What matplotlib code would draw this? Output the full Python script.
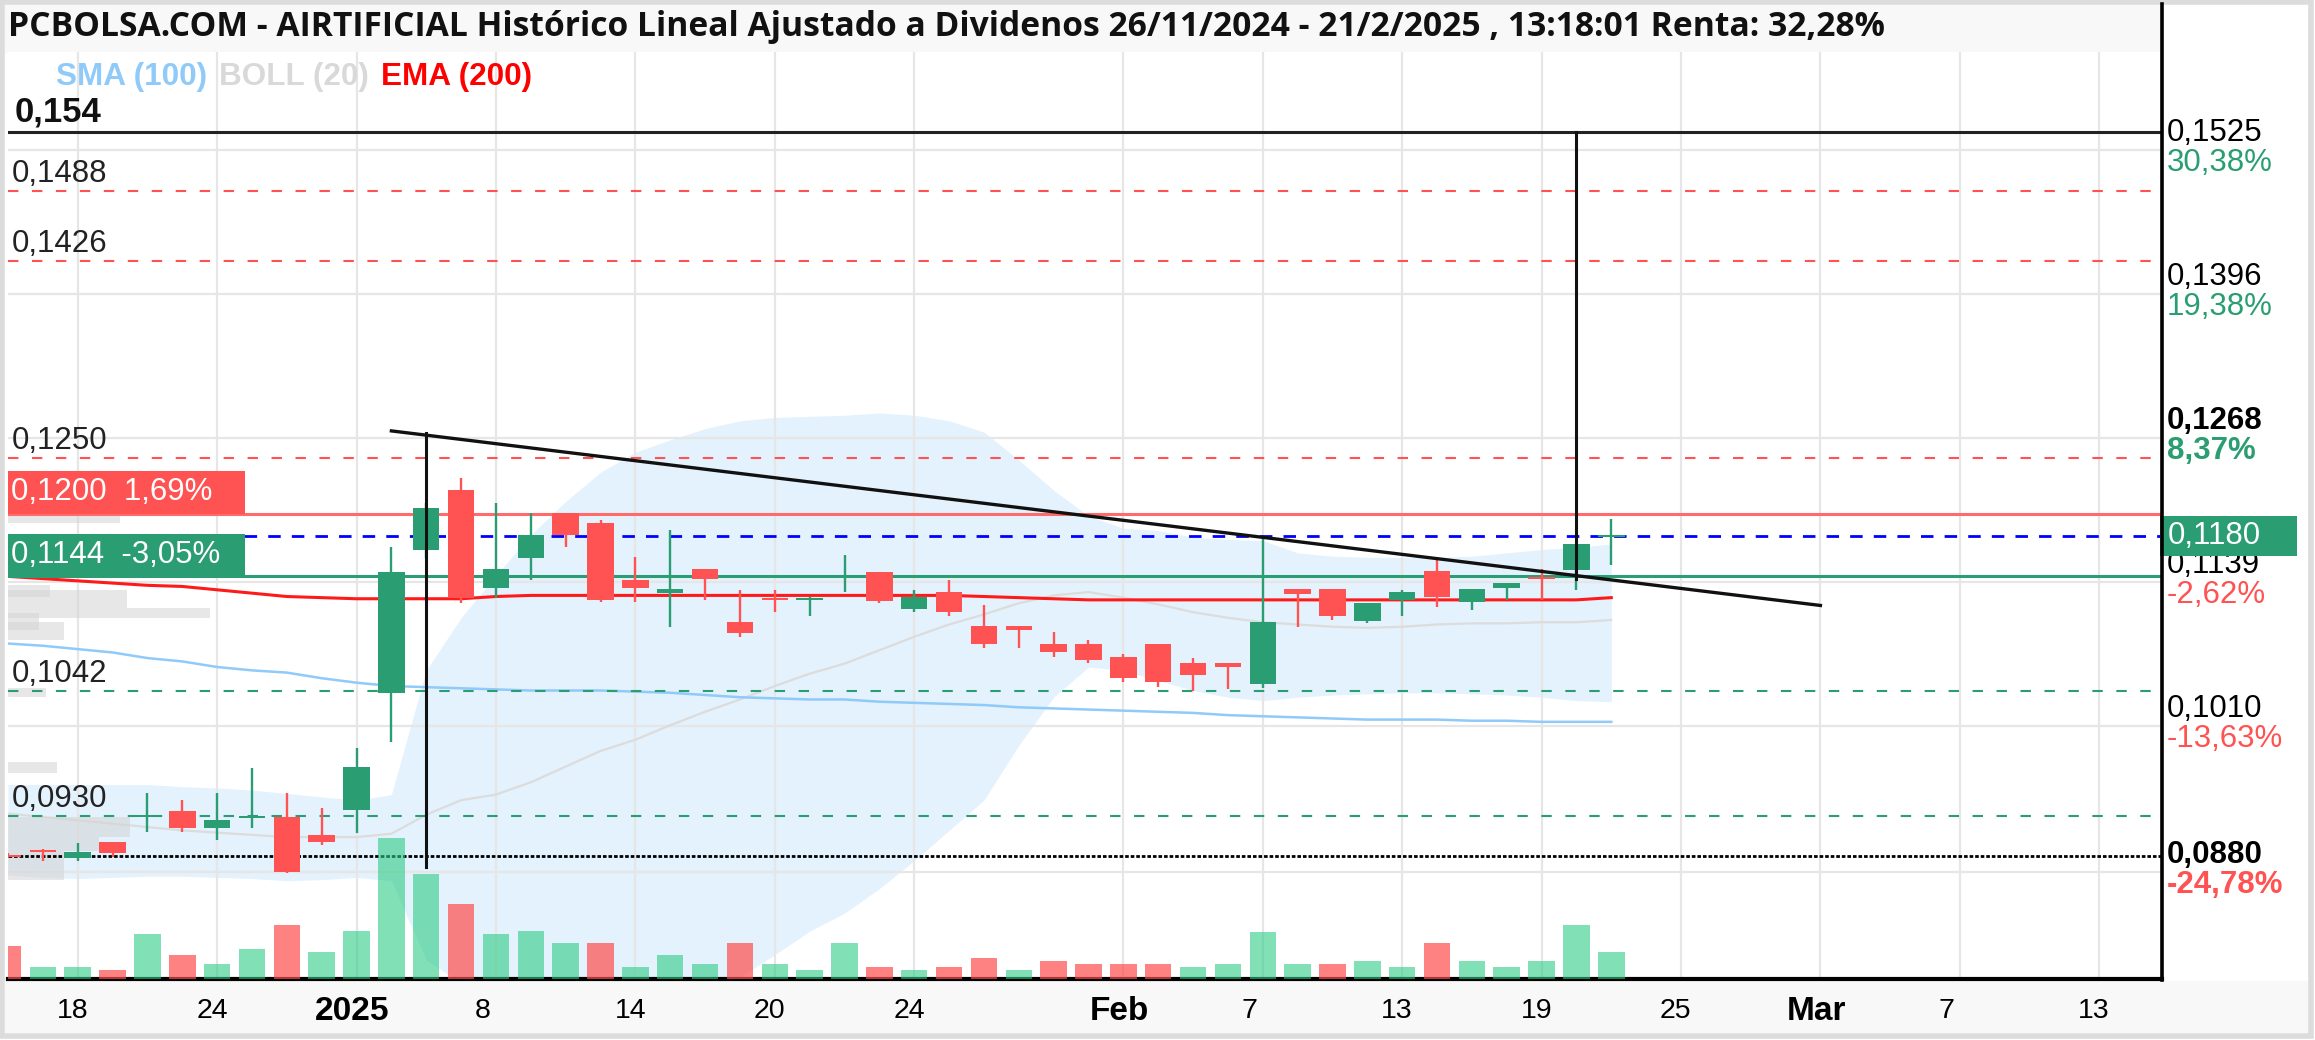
import numpy as np
import pandas as pd
import matplotlib
matplotlib.use('Agg')
import matplotlib.pyplot as plt
from matplotlib.patches import Rectangle
from matplotlib.lines import Line2D
from matplotlib.transforms import blended_transform_factory

plt.rcParams['font.family'] = ['Liberation Sans', 'DejaVu Sans']

TITULO = ('PCBOLSA.COM - AIRTIFICIAL Histórico Lineal Ajustado a Dividenos '
          '26/11/2024 - 21/2/2025 , 13:18:01 Renta: 32,28%')

# sesiones de mercado (sin festivos)
festivos = ['2024-12-25', '2024-12-26', '2025-01-01']
sesiones = pd.bdate_range('2024-12-16', '2025-03-21')
sesiones = sesiones[~sesiones.isin(pd.to_datetime(festivos))]

# velas 16/12/2024 - 21/02/2025
apertura = [0.0895, 0.0899, 0.0892, 0.0907, 0.0929, 0.0934, 0.0919, 0.0928, 0.0929, 0.0913,
            0.0935, 0.1040, 0.1168, 0.1221, 0.1134, 0.1160, 0.1201, 0.1192, 0.1141, 0.1129,
            0.1151, 0.1103, 0.1125, 0.1123, 0.1143, 0.1148, 0.1115, 0.1130, 0.1100, 0.1100,
            0.1084, 0.1084, 0.1072, 0.1084, 0.1067, 0.1067, 0.1048, 0.1133, 0.1133, 0.1104,
            0.1123, 0.1149, 0.1121, 0.1134, 0.1143, 0.1150, 0.1179]
maximo = [0.0897, 0.0900, 0.0906, 0.0907, 0.0950, 0.0944, 0.0950, 0.0973, 0.0950, 0.0937,
          0.0991, 0.1170, 0.1210, 0.1232, 0.1210, 0.1201, 0.1201, 0.1194, 0.1161, 0.1185,
          0.1151, 0.1132, 0.1132, 0.1126, 0.1163, 0.1148, 0.1132, 0.1141, 0.1118, 0.1100,
          0.1094, 0.1087, 0.1075, 0.1084, 0.1071, 0.1067, 0.1179, 0.1133, 0.1133, 0.1120,
          0.1132, 0.1161, 0.1133, 0.1138, 0.1151, 0.1173, 0.1195]
minimo = [0.0893, 0.0890, 0.0890, 0.0893, 0.0916, 0.0916, 0.0908, 0.0919, 0.0879, 0.0904,
          0.0915, 0.0996, 0.1160, 0.1120, 0.1125, 0.1141, 0.1170, 0.1121, 0.1121, 0.1099,
          0.1123, 0.1090, 0.1112, 0.1109, 0.1130, 0.1120, 0.1112, 0.1109, 0.1080, 0.1080,
          0.1072, 0.1067, 0.1050, 0.1045, 0.1042, 0.1043, 0.1044, 0.1099, 0.1105, 0.1102,
          0.1109, 0.1117, 0.1114, 0.1123, 0.1123, 0.1132, 0.1154]
cierre = [0.0893, 0.0898, 0.0898, 0.0897, 0.0930, 0.0919, 0.0926, 0.0929, 0.0880, 0.0907,
          0.0974, 0.1148, 0.1205, 0.1125, 0.1151, 0.1181, 0.1181, 0.1123, 0.1134, 0.1133,
          0.1142, 0.1093, 0.1123, 0.1125, 0.1144, 0.1122, 0.1126, 0.1112, 0.1084, 0.1096,
          0.1076, 0.1069, 0.1053, 0.1050, 0.1056, 0.1063, 0.1103, 0.1128, 0.1109, 0.1120,
          0.1130, 0.1126, 0.1133, 0.1138, 0.1142, 0.1173, 0.1180]

# volumen (miles) y color de la barra (1 sube, 0 baja)
volumen = [330, 120, 120, 90, 450, 240, 150, 300, 540, 270, 480, 1410, 1050, 750, 450, 480,
           360, 360, 120, 240, 150, 360, 150, 90, 360, 120, 90, 120, 210, 90, 180, 150, 150,
           150, 120, 150, 470, 150, 150, 180, 120, 360, 180, 120, 180, 540, 270]
vol_sube = [0, 1, 1, 0, 1, 0, 1, 1, 0, 1, 1, 1, 1, 0, 1, 1, 1, 0, 1, 1, 1, 0, 1, 1, 1, 0,
            1, 0, 0, 1, 0, 0, 0, 0, 1, 1, 1, 1, 0, 1, 1, 0, 1, 1, 1, 1, 1]

# indicadores
boll_sup = [0.0958, 0.0958, 0.0958, 0.0958, 0.0958, 0.0956, 0.0955, 0.0953, 0.0950, 0.0947,
            0.0944, 0.0949, 0.1060, 0.1107, 0.1145, 0.1181, 0.1211, 0.1237, 0.1255, 0.1266,
            0.1276, 0.1283, 0.1286, 0.1287, 0.1288, 0.1290, 0.1288, 0.1283, 0.1273, 0.1248,
            0.1221, 0.1198, 0.1187, 0.1185, 0.1179, 0.1177, 0.1176, 0.1165, 0.1162, 0.1161,
            0.1161, 0.1161, 0.1162, 0.1165, 0.1168, 0.1170, 0.1173]
boll_med = [0.0932, 0.0929, 0.0926, 0.0923, 0.0920, 0.0917, 0.0915, 0.0913, 0.0911, 0.0911,
            0.0911, 0.0914, 0.0931, 0.0944, 0.0949, 0.0960, 0.0974, 0.0988, 0.0998, 0.1011,
            0.1023, 0.1034, 0.1046, 0.1057, 0.1066, 0.1078, 0.1090, 0.1101, 0.1110, 0.1120,
            0.1127, 0.1130, 0.1125, 0.1119, 0.1112, 0.1107, 0.1103, 0.1101, 0.1099, 0.1098,
            0.1099, 0.1101, 0.1102, 0.1102, 0.1103, 0.1103, 0.1105]
boll_inf = [0.0877, 0.0875, 0.0874, 0.0875, 0.0876, 0.0876, 0.0875, 0.0874, 0.0872, 0.0873,
            0.0875, 0.0872, 0.0801, 0.0781, 0.0752, 0.0739, 0.0737, 0.0738, 0.0740, 0.0756,
            0.0770, 0.0786, 0.0806, 0.0827, 0.0843, 0.0865, 0.0890, 0.0917, 0.0944, 0.0993,
            0.1036, 0.1063, 0.1060, 0.1051, 0.1042, 0.1036, 0.1033, 0.1036, 0.1038, 0.1039,
            0.1040, 0.1040, 0.1039, 0.1038, 0.1036, 0.1033, 0.1032]
sma100 = [0.1084, 0.1082, 0.1079, 0.1076, 0.1071, 0.1068, 0.1063, 0.1060, 0.1058, 0.1053,
          0.1049, 0.1046, 0.1045, 0.1044, 0.1043, 0.1042, 0.1042, 0.1042, 0.1041, 0.1040,
          0.1038, 0.1036, 0.1035, 0.1034, 0.1034, 0.1032, 0.1031, 0.1030, 0.1029, 0.1027,
          0.1026, 0.1025, 0.1024, 0.1023, 0.1022, 0.1020, 0.1019, 0.1018, 0.1017, 0.1016,
          0.1016, 0.1016, 0.1015, 0.1015, 0.1014, 0.1014, 0.1014]
ema200 = [0.1144, 0.1142, 0.1140, 0.1138, 0.1136, 0.1135, 0.1132, 0.1129, 0.1126, 0.1125,
          0.1124, 0.1124, 0.1124, 0.1124, 0.1126, 0.1127, 0.1127, 0.1127, 0.1127, 0.1127,
          0.1127, 0.1127, 0.1127, 0.1127, 0.1127, 0.1127, 0.1127, 0.1127, 0.1126, 0.1125,
          0.1124, 0.1123, 0.1123, 0.1123, 0.1123, 0.1123, 0.1123, 0.1123, 0.1123, 0.1123,
          0.1123, 0.1123, 0.1123, 0.1123, 0.1123, 0.1123, 0.1125]

# perfil de volumen (zona izquierda): precio bajo, precio alto, longitud en sesiones
vp_bajo = [0.1192, 0.1126, 0.1116, 0.1107, 0.1096, 0.1087, 0.1036, 0.0968, 0.0911, 0.0899, 0.0873]
vp_alto = [0.1199, 0.1136, 0.1132, 0.1116, 0.1111, 0.1103, 0.1044, 0.0978, 0.0929, 0.0911, 0.0899]
vp_largo = [3.2, 1.2, 3.4, 5.8, 0.9, 1.6, 1.1, 1.4, 3.5, 2.6, 1.6]

# niveles
nivel_max, nivel_max_txt = 0.1541, '0,154'
niveles_rojos = [0.1488, 0.1426, 0.1250]
niveles_verdes = [0.1042, 0.0930]
niveles_txt = {0.1488: '0,1488', 0.1426: '0,1426', 0.1250: '0,1250',
               0.1042: '0,1042', 0.0930: '0,0930'}
nivel_min = 0.0894
res_roja, res_roja_txt = 0.1200, '0,1200  1,69%'
sop_verde, sop_verde_txt = 0.1144, '0,1144  -3,05%'
precio_actual, precio_actual_txt = 0.1180, '0,1180'

# directriz y medidas (fecha, precio)
directriz = [('2025-01-03', 0.1274), ('2025-03-03', 0.1118)]
medida1 = ('2025-01-06', 0.0884, 0.1272)
medida2 = ('2025-02-20', 0.1142, 0.1541)

# eje derecho
ticks_der = [0.1525, 0.1396, 0.1268, 0.1139, 0.1010, 0.0880]
ticks_der_txt = ['0,1525', '0,1396', '0,1268', '0,1139', '0,1010', '0,0880']
pct_der = ['30,38%', '19,38%', '8,37%', '-2,62%', '-13,63%', '-24,78%']
negrita_der = [False, False, True, False, False, True]

# eje x
fechas_eje = ['2024-12-18', '2024-12-24', '2025-01-02', '2025-01-08', '2025-01-14',
              '2025-01-20', '2025-01-24', '2025-02-03', '2025-02-07', '2025-02-13',
              '2025-02-19', '2025-02-25', '2025-03-03', '2025-03-07', '2025-03-13']
etiquetas_eje = ['18', '24', '2025', '8', '14', '20', '24', 'Feb', '7', '13', '19', '25',
                 'Mar', '7', '13']

leyenda = [('SMA (100)', '#90caf9'), ('BOLL (20)', '#d9d9d9'), ('EMA (200)', '#ff0000')]

VERDE = '#2a9d72'
ROJO = '#ff5252'


def pos(fecha):
    return int(sesiones.get_loc(pd.Timestamp(fecha)))


W, H = 2315, 1040
fig = plt.figure(figsize=(W / 100, H / 100), dpi=100)


def fx(px):
    return px / W


def fy(py):
    return 1 - py / H


# marco, barra de título y zona de fechas
fig.patches.append(Rectangle((fx(5), fy(52)), fx(2162) - fx(5), fy(4) - fy(52),
                             transform=fig.transFigure, color='#f8f8f8', zorder=-2))
fig.patches.append(Rectangle((fx(5), fy(1032)), fx(2308) - fx(5), fy(981) - fy(1032),
                             transform=fig.transFigure, color='#f8f8f8', zorder=-2))
fig.patches.append(Rectangle((fx(2), fy(1036)), fx(2311) - fx(2), fy(2) - fy(1036),
                             transform=fig.transFigure, fill=False, edgecolor='#dcdcdc',
                             lw=4, zorder=-1))

ax = fig.add_axes([fx(8), fy(979), fx(2162) - fx(8), fy(52) - fy(979)])
ax.set_xlim(0, 61.8)
ax.set_ylim(0.07842, 0.16126)

x = np.arange(len(cierre))

# gridlines
ax.set_yticks(ticks_der)
ax.set_xticks([pos(f) for f in fechas_eje])
ax.grid(True, color='#e6e6e6', lw=1.6)
ax.set_axisbelow(True)
ax.tick_params(length=0, labelbottom=False, labelleft=False)
for s in ['left', 'top', 'right']:
    ax.spines[s].set_visible(False)
ax.spines['bottom'].set_linewidth(3)
ax.spines['bottom'].set_color('black')

# bandas de bollinger y medias
ax.fill_between(x, boll_inf, boll_sup, color='#e3f2fd', lw=0, zorder=0.3)
ax.plot(x, boll_med, color='#dcdcdc', lw=1.6, zorder=1)
ax.plot(x, sma100, color='#90caf9', lw=1.8, zorder=1)
ax.plot(x, ema200, color='#ff1a1a', lw=2.2, zorder=1.2)

# perfil de volumen
for b, a, l in zip(vp_bajo, vp_alto, vp_largo):
    ax.add_patch(Rectangle((0, b), l, a - b, color='#d4d4d4', alpha=0.55, lw=0, zorder=1.3))

# niveles horizontales
ax.axhline(nivel_max, color='#222222', lw=2.2, zorder=1.5)
for n in niveles_rojos:
    ax.axhline(n, color=ROJO, lw=1.5, ls=(0, (5, 6.5)), zorder=1.5)
for n in niveles_verdes:
    ax.axhline(n, color=VERDE, lw=1.5, ls=(0, (5, 6.5)), zorder=1.5)
ax.axhline(nivel_min, color='black', lw=2, ls=(0, (1.3, 0.7)), zorder=1.5)
ax.axhline(res_roja, color='#ff6b6b', lw=2.2, zorder=1.5)
ax.axhline(sop_verde, color=VERDE, lw=2.2, zorder=1.5)
ax.axhline(precio_actual, color='#0000ff', lw=2.0, ls=(0, (4.5, 4)), zorder=1.5)

# velas
for i in range(len(cierre)):
    o, h, l, c = apertura[i], maximo[i], minimo[i], cierre[i]
    col = VERDE if c >= o else ROJO
    ax.vlines(i, l, h, color=col, lw=1.7, zorder=2)
    cuerpo = max(abs(c - o), 0.00018)
    ax.bar(i, cuerpo, bottom=min(o, c), width=0.76, color=col, lw=0, zorder=2.1)

# directriz y medidas
ax.plot([pos(directriz[0][0]), pos(directriz[1][0])], [directriz[0][1], directriz[1][1]],
        color='#111111', lw=2.4, zorder=3)
for f, p0, p1 in [medida1, medida2]:
    ax.plot([pos(f), pos(f)], [p0, p1], color='#111111', lw=2.2, zorder=3)

# cajas de la izquierda
tr_izq = blended_transform_factory(ax.transAxes, ax.transData)
for nivel, txt, col in [(res_roja, res_roja_txt, ROJO), (sop_verde, sop_verde_txt, VERDE)]:
    ax.add_patch(Rectangle((0, nivel), 237 / 2154, 0.0038, transform=tr_izq,
                           color=col, lw=0, zorder=4))
    ax.annotate(txt, xy=(0, nivel + 0.0019), xycoords=('axes fraction', 'data'),
                xytext=(3, 0), textcoords='offset pixels', color='white',
                fontsize=22.5, va='center', ha='left', zorder=5)

# etiquetas de la izquierda
ax.annotate(nivel_max_txt, xy=(0, nivel_max), xycoords=('axes fraction', 'data'),
            xytext=(7, 20), textcoords='offset pixels', fontsize=25, fontweight='bold',
            va='center', ha='left', color='#111111', zorder=5)
for n, t in niveles_txt.items():
    ax.annotate(t, xy=(0, n), xycoords=('axes fraction', 'data'), xytext=(4, 17),
                textcoords='offset pixels', fontsize=22.5, va='center', ha='left',
                color='#222222', zorder=5)

# eje derecho
for t, txt, pct, neg in zip(ticks_der, ticks_der_txt, pct_der, negrita_der):
    peso = 'bold' if neg else 'normal'
    ax.annotate(txt, xy=(1, t), xycoords=('axes fraction', 'data'), xytext=(5, 17),
                textcoords='offset pixels', fontsize=22.5, fontweight=peso,
                va='center', ha='left', color='black', annotation_clip=False)
    ax.annotate(pct, xy=(1, t), xycoords=('axes fraction', 'data'), xytext=(5, -13),
                textcoords='offset pixels', fontsize=22.5, fontweight=peso,
                va='center', ha='left', color=ROJO if pct.startswith('-') else VERDE,
                annotation_clip=False)

ax.add_patch(Rectangle((1 - 2 / 2154, precio_actual - 0.00179), 137 / 2154, 0.00358,
                       transform=tr_izq, color=VERDE, lw=0, clip_on=False, zorder=6))
ax.annotate(precio_actual_txt, xy=(1, precio_actual), xycoords=('axes fraction', 'data'),
            xytext=(6, 0), textcoords='offset pixels', fontsize=22.5, color='white',
            va='center', ha='left', annotation_clip=False, zorder=7)

# fechas
for f, lab in zip(fechas_eje, etiquetas_eje):
    if lab.isdigit() and len(lab) <= 2:
        ax.annotate(lab, xy=(pos(f), 0), xycoords=('data', 'axes fraction'),
                    xytext=(-21, -32), textcoords='offset pixels', fontsize=20.5,
                    ha='left', va='center', annotation_clip=False)
    else:
        ax.annotate(lab, xy=(pos(f), 0), xycoords=('data', 'axes fraction'),
                    xytext=(-4, -32), textcoords='offset pixels', fontsize=24,
                    fontweight='bold', ha='center', va='center', annotation_clip=False)

# volumen
ax2 = ax.twinx()
ax2.set_ylim(0, 9270)
colores_vol = ['#2ecc85' if s else '#ff4d4d' for s in vol_sube]
alfas = [0.6 if s else 0.7 for s in vol_sube]
for i in range(len(volumen)):
    ax2.bar(i, volumen[i], width=0.76, color=colores_vol[i], alpha=alfas[i], lw=0)
ax2.set_yticks([])
ax2.tick_params(length=0, labelright=False)
for s in ax2.spines.values():
    s.set_visible(False)

# linea derecha
fig.lines.append(Line2D([fx(2162), fx(2162)], [fy(4), fy(980)], transform=fig.transFigure,
                        color='black', lw=2.6, zorder=5))

# titulo ajustado al ancho
titulo = fig.text(fx(8), fy(27), TITULO, fontsize=18.5, fontweight='bold',
                  family=['Open Sans', 'DejaVu Sans'], va='center', ha='left', color='#111111')
fig.canvas.draw()
r = fig.canvas.get_renderer()
bb = titulo.get_window_extent(renderer=r)
titulo.set_fontsize(18.5 * 1885 / bb.width)

# leyenda
xl = 56
for txt, col in leyenda:
    t = fig.text(fx(xl), fy(77), txt, color=col, fontsize=22.7, fontweight='bold',
                 va='center', ha='left')
    fig.canvas.draw()
    xl = t.get_window_extent(renderer=fig.canvas.get_renderer()).x1 + 12

fig.savefig('out.png', dpi=100)
